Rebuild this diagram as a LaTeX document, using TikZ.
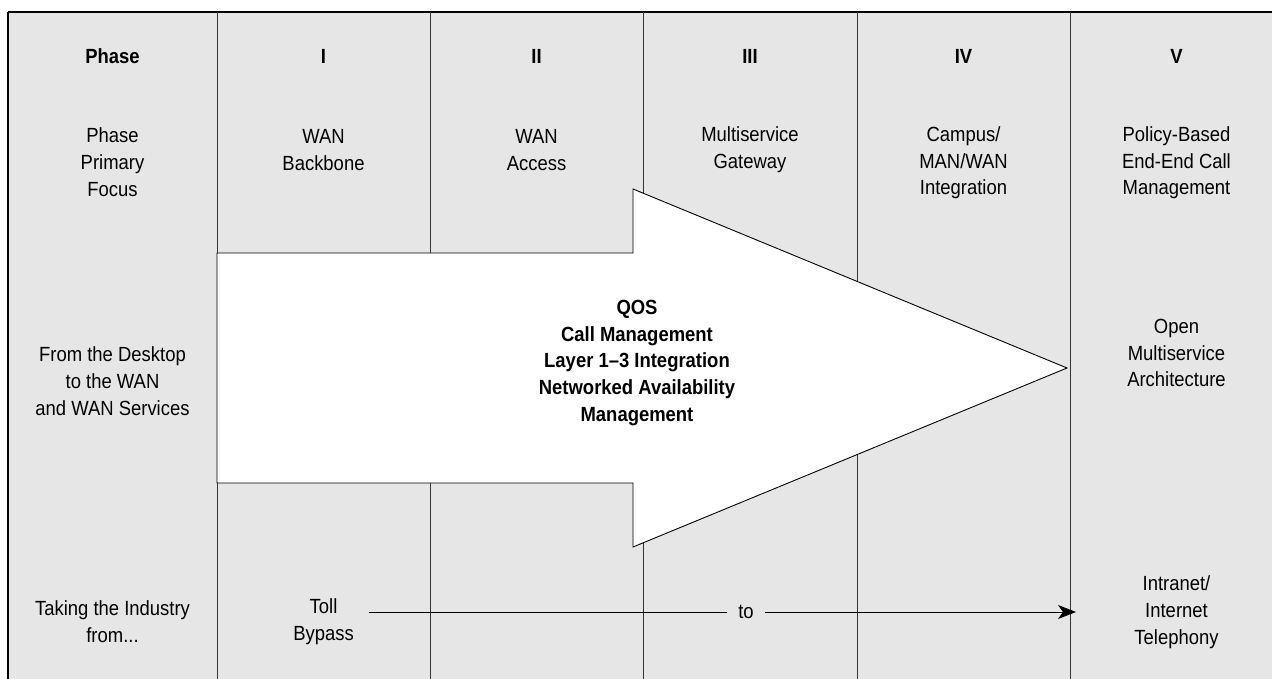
\documentclass[tikz,border=0pt]{standalone}
\usepackage{fontspec}
\setmainfont{Liberation Sans}[FakeStretch=0.9]
\usetikzlibrary{arrows.meta}
\definecolor{cellgrey}{HTML}{E6E6E6}
\definecolor{rulegrey}{HTML}{333333}
\tikzset{
  cell/.style={align=center,font=\fontsize{20.5}{26.7}\selectfont,text=black,inner sep=0pt},
  headcell/.style={cell,font=\fontsize{20.5}{26.7}\selectfont\bfseries},
  colrule/.style={draw=rulegrey,line width=1pt},
  bigarrow/.style={draw=black,fill=white,line width=0.9pt,line join=miter},
  flow/.style={draw=black,line width=0.9pt,-{Stealth[length=18pt,width=14pt,inset=5pt]}},
  flowplain/.style={draw=black,line width=0.9pt}
}
\begin{document}
\begin{tikzpicture}[x=1pt,y=-1pt]
\useasboundingbox (0,0) rectangle (1272,679);
% background table
\fill[cellgrey] (8,12) rectangle (1272,679);
\draw[black,line width=1.8pt] (8,12) -- (1272,12);
\draw[black,line width=1.2pt] (8,12) -- (8,679);
\foreach \x in {217,430,643,857,1070}{
  \draw[colrule] (\x,12) -- (\x,679);
}
% big arrow
\draw[bigarrow] (217,253) -- (633,253) -- (633,189) -- (1067,368) -- (633,547) -- (633,483) -- (217,483) -- cycle;

% header row
\node[headcell] (h0) at (112.5,56) {Phase};
\node[headcell] (h1) at (323.5,56) {I};
\node[headcell] (h2) at (536.5,56) {II};
\node[headcell] (h3) at (750,56) {III};
\node[headcell] (h4) at (963.5,56) {IV};
\node[headcell] (h5) at (1176.5,56) {V};

% focus row
\node[cell] (f0) at (112.5,162) {Phase\\Primary\\Focus};
\node[cell] (f1) at (323.5,150) {WAN\\Backbone};
\node[cell] (f2) at (536.5,150) {WAN\\Access};
\node[cell] (f3) at (750,150) {Multiservice\\Gateway};
\node[cell] (f4) at (963.5,163) {Campus/\\MAN/WAN\\Integration};
\node[cell] (f5) at (1176.5,163) {Policy-Based\\End-End Call\\Management};

% middle row
\node[cell] (m0) at (112.5,381) {From the Desktop\\to the WAN\\and WAN Services};
\node[headcell] (m1) at (637,363) {QOS\\Call Management\\Layer 1–3 Integration\\Networked Availability\\Management};
\node[cell] (m5) at (1176.5,353) {Open\\Multiservice\\Architecture};

% bottom row
\node[cell] (b0) at (112.5,622) {Taking the Industry\\from...};
\node[cell] (b1) at (323.5,622) {Toll\\Bypass};
\node[cell] (b5) at (1176.5,612) {Intranet/\\Internet\\Telephony};

\coordinate (tstart) at (369,612);
\coordinate (tend) at (1076,612);
\node[cell,inner xsep=11pt] (to) at (746,612) {to};
\draw[flowplain] (tstart) -- (to.west);
\draw[flow] (to.east) -- (tend);
\end{tikzpicture}
\end{document}
